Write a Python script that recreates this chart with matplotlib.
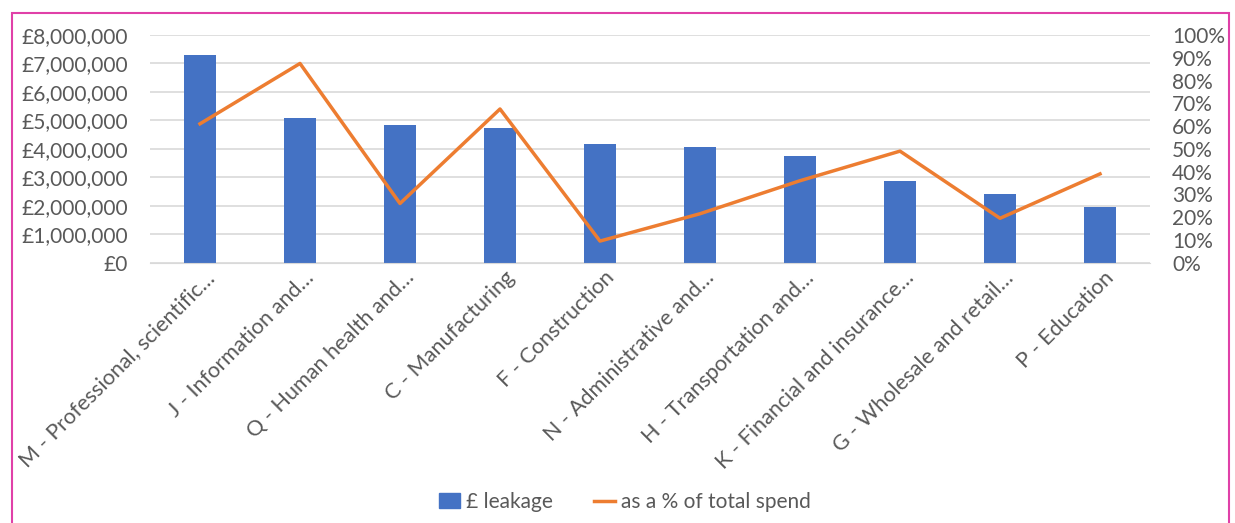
import numpy as np
import matplotlib.pyplot as plt
import matplotlib.transforms as mtransforms
from matplotlib.ticker import FuncFormatter, PercentFormatter
from matplotlib.patches import Rectangle
from matplotlib.lines import Line2D

plt.rcParams['font.family'] = ['Lato', 'DejaVu Sans']

# --- data ---
categories = ["M - Professional, scientific\u2026", "J - Information and\u2026",
              "Q - Human health and\u2026", "C - Manufacturing", "F - Construction",
              "N - Administrative and\u2026", "H - Transportation and\u2026",
              "K - Financial and insurance\u2026", "G - Wholesale and retail\u2026",
              "P - Education"]
leakage = [7300000, 5080000, 4830000, 4720000, 4180000, 4060000, 3740000, 2870000, 2430000, 1950000]
pct_spend = [61, 87.5, 26, 67.5, 9.5, 21.5, 36, 49, 19.5, 39]

blue = "#4472C4"
orange = "#ED7D31"
grey = "#595959"

fig = plt.figure(figsize=(12.35, 5.23), dpi=100)
ax = fig.add_axes([150/1235, 1 - 262.7/523, 1000/1235, 227.7/523])
ax2 = ax.twinx()

x = np.arange(len(categories))
ax.bar(x, leakage, width=0.32, color=blue, zorder=2)
ax2.plot(x, pct_spend, color=orange, lw=2.5, zorder=3)

ax.set_xlim(-0.5, len(categories) - 0.5)
ax.set_ylim(0, 8000000)
ax.set_yticks(np.arange(0, 8000001, 1000000))
ax.yaxis.set_major_formatter(FuncFormatter(lambda v, p: "£{:,.0f}".format(v)))
ax2.set_ylim(0, 100)
ax2.set_yticks(np.arange(0, 101, 10))
ax2.yaxis.set_major_formatter(PercentFormatter(decimals=0))

ax.grid(axis='y', color='#D9D9D9', lw=1.2, zorder=0)
ax.set_axisbelow(True)
for a in (ax, ax2):
    for s in a.spines.values():
        s.set_visible(False)
    a.tick_params(length=0, colors=grey, labelsize=15)
ax.spines['bottom'].set_visible(True)
ax.spines['bottom'].set_color('#D9D9D9')
ax.tick_params(axis='y', pad=16)
ax2.tick_params(axis='y', pad=16)

ax.set_xticks(x)
ax.set_xticklabels(categories, rotation=45, ha='right', va='center',
                   rotation_mode='anchor', fontsize=15.6, color=grey)
off = mtransforms.ScaledTranslation(0.11, -0.07, fig.dpi_scale_trans)
for lab in ax.get_xticklabels():
    lab.set_transform(lab.get_transform() + off)

handles = [Rectangle((0, 0), 1, 1, color=blue), Line2D([0], [0], color=orange, lw=2.5)]
fig.legend(handles, ["£ leakage", "as a % of total spend"], loc='center',
           bbox_to_anchor=(625/1235, 1 - 502/523), ncol=2, frameon=False,
           fontsize=15, labelcolor=grey, handlelength=1.0, handletextpad=0.3,
           columnspacing=2.0)

fig.add_artist(Rectangle((12/1235, -0.02), 1217/1235, 1 - 13/523 + 0.02,
                         transform=fig.transFigure, fill=False, edgecolor='#E040A8', lw=1.5))

fig.savefig("out.png", dpi=100)
